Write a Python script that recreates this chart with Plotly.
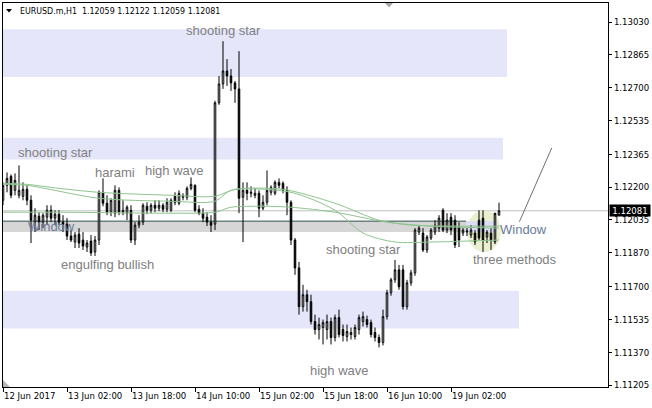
import plotly.graph_objects as go

# ---------------- data (EURUSD.m H1) ----------------
bar_index = list(range(125))

opens = [1.12134,1.12209,1.12254,1.12184,1.12159,1.12154,1.12189,1.12134,1.12024,1.12054,
         1.12024,1.12049,1.12084,1.12044,1.12064,1.12024,1.12014,1.11954,1.11924,1.11964,
         1.11934,1.11899,1.11929,1.11874,1.11934,1.12174,1.12119,1.12074,1.12069,1.12184,
         1.12074,1.12069,1.12084,1.11934,1.12009,1.12024,1.12104,1.12084,1.12109,1.12094,
         1.12109,1.12089,1.12084,1.12154,1.12119,1.12149,1.12149,1.12194,1.12209,1.12089,
         1.12069,1.12049,1.12024,1.12014,1.12624,1.12719,1.12784,1.12759,1.12724,1.12694,
         1.12149,1.12184,1.12169,1.12159,1.12169,1.12094,1.12124,1.12174,1.12169,1.12224,
         1.12219,1.12184,1.12124,1.11934,1.11794,1.11599,1.11659,1.11624,1.11524,1.11484,
         1.11494,1.11484,1.11524,1.11444,1.11544,1.11484,1.11449,1.11459,1.11449,1.11484,
         1.11524,1.11534,1.11519,1.11469,1.11444,1.11419,1.11549,1.11669,1.11734,1.11784,
         1.11784,1.11599,1.11719,1.11769,1.11974,1.11969,1.11884,1.11944,1.11974,1.11994,
         1.12084,1.11984,1.12049,1.12034,1.11999,1.11969,1.11974,1.11959,1.11969,1.12034,
         1.12044,1.11949,1.11969,1.11924,1.12059]
highs = [1.12224,1.12274,1.12264,1.12269,1.12309,1.12224,1.12209,1.12159,1.12094,1.12074,
         1.12069,1.12109,1.12109,1.12084,1.12084,1.12059,1.12044,1.11984,1.11974,1.11994,
         1.11974,1.11934,1.11959,1.11954,1.12184,1.12244,1.12159,1.12144,1.12209,1.12199,
         1.12134,1.12109,1.12109,1.12024,1.12059,1.12119,1.12124,1.12119,1.12134,1.12134,
         1.12119,1.12144,1.12144,1.12174,1.12184,1.12169,1.12204,1.12249,1.12214,1.12109,
         1.12094,1.12074,1.12059,1.12634,1.12759,1.12934,1.12844,1.12794,1.12734,1.12884,
         1.12224,1.12224,1.12204,1.12194,1.12184,1.12159,1.12284,1.12209,1.12234,1.12244,
         1.12229,1.12204,1.12134,1.11944,1.11824,1.11709,1.11684,1.11659,1.11559,1.11544,
         1.11534,1.11559,1.11544,1.11559,1.11584,1.11509,1.11509,1.11494,1.11509,1.11559,
         1.11574,1.11554,1.11534,1.11494,1.11459,1.11584,1.11684,1.11744,1.11834,1.11809,
         1.11809,1.11734,1.11784,1.11994,1.12009,1.11994,1.11959,1.11994,1.12034,1.12059,
         1.12094,1.12069,1.12069,1.12059,1.12024,1.11994,1.11994,1.12009,1.11984,1.12084,
         1.12084,1.11984,1.11994,1.12059,1.12122]
lows = [1.12109,1.12174,1.12144,1.12159,1.12144,1.12134,1.12109,1.11919,1.11974,1.11984,
        1.11994,1.12009,1.12024,1.12009,1.12009,1.11974,1.11934,1.11924,1.11894,1.11894,
        1.11884,1.11874,1.11854,1.11854,1.11909,1.12104,1.12059,1.12054,1.12049,1.12059,
        1.12059,1.12034,1.11919,1.11909,1.11994,1.12009,1.12064,1.12069,1.12074,1.12079,
        1.12074,1.12074,1.12074,1.12109,1.12109,1.12134,1.12134,1.12184,1.12074,1.12059,
        1.12024,1.12004,1.11974,1.11984,1.12614,1.12694,1.12709,1.12684,1.12624,1.12069,
        1.11924,1.12134,1.12149,1.12144,1.12049,1.12084,1.12109,1.12159,1.12159,1.12194,
        1.12169,1.12059,1.11909,1.11759,1.11559,1.11574,1.11574,1.11509,1.11459,1.11434,
        1.11409,1.11434,1.11409,1.11424,1.11444,1.11424,1.11424,1.11434,1.11434,1.11459,
        1.11499,1.11494,1.11444,1.11424,1.11394,1.11404,1.11534,1.11654,1.11719,1.11684,
        1.11584,1.11584,1.11704,1.11754,1.11959,1.11874,1.11869,1.11934,1.11959,1.11974,
        1.11974,1.11969,1.11959,1.11894,1.11899,1.11954,1.11954,1.11944,1.11909,1.11934,
        1.11874,1.11919,1.11884,1.11914,1.12059]
closes = [1.12209,1.12244,1.12159,1.12234,1.12184,1.12189,1.12134,1.12034,1.12059,1.12024,
          1.12059,1.12084,1.12044,1.12064,1.12024,1.12014,1.11954,1.11934,1.11959,1.11919,
          1.11904,1.11919,1.11869,1.11934,1.12174,1.12119,1.12074,1.12134,1.12184,1.12074,
          1.12084,1.12099,1.11934,1.12009,1.12024,1.12109,1.12084,1.12109,1.12094,1.12109,
          1.12089,1.12124,1.12134,1.12124,1.12169,1.12154,1.12194,1.12214,1.12084,1.12069,
          1.12044,1.12024,1.12009,1.12624,1.12719,1.12784,1.12759,1.12724,1.12694,1.12144,
          1.12184,1.12169,1.12174,1.12169,1.12094,1.12124,1.12184,1.12199,1.12224,1.12209,
          1.12184,1.12124,1.11934,1.11794,1.11599,1.11659,1.11624,1.11524,1.11484,1.11509,
          1.11519,1.11524,1.11444,1.11544,1.11459,1.11454,1.11474,1.11469,1.11494,1.11544,
          1.11549,1.11509,1.11459,1.11444,1.11419,1.11549,1.11669,1.11734,1.11784,1.11699,
          1.11599,1.11719,1.11769,1.11984,1.11994,1.11884,1.11949,1.11984,1.12009,1.12044,
          1.11984,1.12034,1.11984,1.11909,1.11934,1.11984,1.11979,1.11984,1.11924,1.11944,
          1.11934,1.11974,1.11934,1.12069,1.12081]

# moving averages (sampled along their course)
ma_a_x = [0, 6, 14, 24, 42, 53, 58, 70, 83, 94, 102, 115, 124]
ma_a = [1.12219, 1.12214, 1.12194, 1.12174, 1.12159, 1.12154, 1.12189, 1.12189,
        1.12119, 1.12034, 1.12009, 1.12004, 1.12004]
ma_b_x = [0, 6, 24, 42, 53, 57, 72, 83, 90, 98, 107, 124]
ma_b = [1.12214, 1.12209, 1.12144, 1.12129, 1.12129, 1.12184, 1.12174, 1.12084,
        1.11969, 1.11924, 1.11924, 1.11934]
ma_c_x = [0, 14, 42, 53, 57, 65, 72, 83, 96, 107, 124]
ma_c = [1.12074, 1.12074, 1.12069, 1.12074, 1.12099, 1.12104, 1.12099, 1.12074,
        1.12024, 1.12004, 1.11994]

x_tick_index = [0, 16, 32, 48, 64, 80, 96, 112]
x_tick_text = ["12 Jun 2017", "13 Jun 02:00", "13 Jun 18:00", "14 Jun 10:00",
               "15 Jun 02:00", "15 Jun 18:00", "16 Jun 10:00", "19 Jun 02:00"]
y_ticks = [1.11205, 1.11370, 1.11535, 1.11700, 1.11870, 1.12035,
           1.12200, 1.12365, 1.12535, 1.12700, 1.12865, 1.13030]
last_price = 1.12081

# chart objects (time index / price)
zones = [  # (x0, x1, y0, y1, colour)
    (-5, 126.0, 1.12754, 1.12994, "#E6E6FA"),
    (-5, 125.0, 1.12339, 1.12449, "#E6E6FA"),
    (-5, 129.0, 1.11489, 1.11679, "#E6E6FA"),
    (-5, 115.75, 1.11974, 1.12029, "#D6D6D6"),
]
labels = [  # (x, y, text, colour)
    (55.1, 1.12989, "shooting star", "#808080"),
    (13.1, 1.12374, "shooting star", "#808080"),
    (28.0, 1.12274, "harami", "#808080"),
    (42.9, 1.12284, "high wave", "#808080"),
    (12.0, 1.12004, "Window", "#6B7A99"),
    (26.0, 1.11809, "engulfing bullish", "#808080"),
    (90.1, 1.11886, "shooting star", "#808080"),
    (84.0, 1.11279, "high wave", "#808080"),
    (130.0, 1.11989, "Window", "#6B7A99"),
    (128.0, 1.11837, "three methods", "#808080"),
]

AXFONT = dict(family="DejaVu Sans Condensed, Liberation Sans, Arial", size=9.5, color="#000000")

fig = go.Figure()

for xs, ys in ((ma_a_x, ma_a), (ma_b_x, ma_b), (ma_c_x, ma_c)):
    fig.add_trace(go.Scatter(x=xs, y=ys, mode="lines",
                             line=dict(color="#8FC48F", width=1, shape="spline", smoothing=0.8),
                             hoverinfo="skip", showlegend=False))

fig.add_trace(go.Candlestick(
    x=bar_index, open=opens, high=highs, low=lows, close=closes,
    increasing=dict(fillcolor="#FFFFFF", line=dict(color="#000000", width=1)),
    decreasing=dict(fillcolor="#000000", line=dict(color="#000000", width=1)),
    whiskerwidth=0, showlegend=False, hoverinfo="skip"))

shapes = []
for x0, x1, y0, y1, col in zones:
    shapes.append(dict(type="rect", xref="x", yref="y", x0=x0, x1=x1, y0=y0, y1=y1,
                       fillcolor=col, line=dict(width=0), layer="below"))
shapes.append(dict(type="circle", xref="x", yref="y", x0=116.0, x1=124.5, y0=1.11874, y1=1.12084,
                   fillcolor="#E9EFCF", line=dict(width=0), layer="below"))
shapes.append(dict(type="rect", xref="x", yref="y", x0=115.75, x1=123.5, y0=1.11974, y1=1.12029,
                   fillcolor="#DCDCF4", line=dict(width=0), layer="below"))
shapes.append(dict(type="line", xref="x", yref="y", x0=-5, x1=115.75, y0=1.12029, y1=1.12029,
                   line=dict(color="#2F4F4F", width=1), layer="below"))
shapes.append(dict(type="line", xref="paper", yref="y", x0=0, x1=1, y0=last_price, y1=last_price,
                   line=dict(color="#C0C0C0", width=1), layer="below"))
shapes.append(dict(type="line", xref="x", yref="y", x0=129.1, x1=137.2, y0=1.12026, y1=1.12398,
                   line=dict(color="#707070", width=1)))

def px(v):
    return (v - 3) / 605.0

def py(v):
    return (387 - v) / 384.0

shapes.append(dict(type="path", xref="paper", yref="paper",
                   path=f"M {px(6)} {py(9)} L {px(12)} {py(9)} L {px(9)} {py(12.5)} Z",
                   fillcolor="#000000", line=dict(width=0)))
shapes.append(dict(type="path", xref="paper", yref="paper",
                   path=f"M {px(385)} {py(3)} L {px(393)} {py(3)} L {px(389)} {py(7.5)} Z",
                   fillcolor="#A8A8A8", line=dict(width=0)))
shapes.append(dict(type="path", xref="paper", yref="paper",
                   path=f"M {px(3)} {py(380)} L {px(3)} {py(387)} L {px(10)} {py(387)} Z",
                   fillcolor="#B4B4B4", line=dict(width=0)))

annotations = []
for x, y, t, col in labels:
    annotations.append(dict(x=x, y=y, xref="x", yref="y", text=t, showarrow=False,
                            font=dict(family="Liberation Sans, Arial", size=13, color=col),
                            xanchor="center", yanchor="middle"))
annotations.append(dict(x=px(17.5), y=py(10.5), xref="paper", yref="paper",
                        text="EURUSD.m,H1\u00a0\u00a01.12059 1.12122 1.12059 1.12081",
                        showarrow=False,
                        font=dict(family=AXFONT["family"], size=8.8, color="#000000"),
                        xanchor="left", yanchor="middle"))
annotations.append(dict(x=px(609), y=last_price, xref="paper", yref="y", text=f"{last_price:.5f}",
                        showarrow=False, font=dict(family=AXFONT["family"], size=9.5, color="#FFFFFF"),
                        bgcolor="#000000", borderpad=0, xanchor="left", yanchor="middle",
                        width=40, align="center"))

fig.update_layout(
    width=652, height=408,
    margin=dict(l=3, r=44, t=3, b=21),
    paper_bgcolor="#FFFFFF", plot_bgcolor="#FFFFFF",
    boxgap=0.45,
    showlegend=False,
    shapes=shapes, annotations=annotations,
    xaxis=dict(range=[0, 151.25], showgrid=False, zeroline=False, showline=True, mirror=True,
               linecolor="#000000", linewidth=1, ticks="outside", ticklen=4, tickcolor="#000000",
               tickvals=x_tick_index, ticktext=x_tick_text, tickfont=AXFONT,
               ticklabelposition="outside right", rangeslider=dict(visible=False), fixedrange=True),
    yaxis=dict(range=[1.11195, 1.13126], side="right", showgrid=False, zeroline=False,
               showline=True, mirror=True, linecolor="#000000", linewidth=1,
               ticks="outside", ticklen=3, tickcolor="#000000",
               tickvals=y_ticks, ticktext=[f"{v:.5f}" for v in y_ticks], tickfont=AXFONT,
               fixedrange=True),
)

fig.write_html("out.html", config={"displayModeBar": False},
               post_script="document.body.style.margin='0px';document.body.style.overflow='hidden';")
